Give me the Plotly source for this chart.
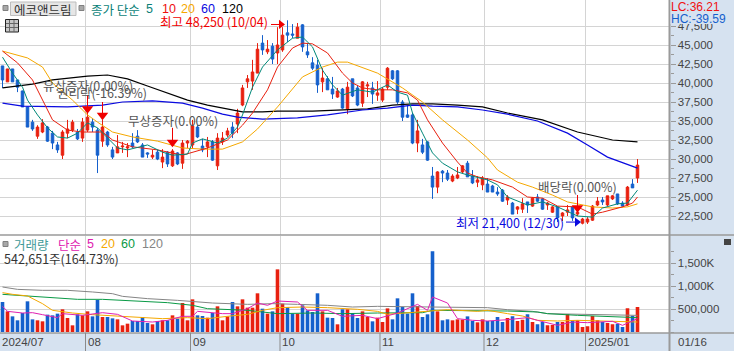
import plotly.graph_objects as go

opens = [42250,40150,41850,40400,38950,36850,34850,33000,33550,34200,33400,31850,30500,33400,33800,33550,32750,33800,34850,33800,
32350,33550,31200,30800,31600,31450,32100,33000,31850,30800,30250,30900,29600,30900,29100,30800,29450,32100,31850,34200,
31700,31600,32250,29100,32250,33150,34200,34600,37100,40150,40250,41300,45250,44100,44850,43950,44350,46600,46450,45900,
47650,44100,42650,42350,40150,40550,39200,38150,39200,36600,40550,39350,37350,39600,39350,38400,37750,39450,41600,41600,
37500,35800,35800,32100,31850,32250,27750,26300,28400,28150,27100,27500,28300,29450,27750,26950,26600,26700,26450,25650,
25900,24600,24200,23400,23400,24350,23800,25000,24750,23950,23000,23700,22500,23000,23700,22750,21550,21700,21950,23950,
24600,23950,24750,25400,24200,23950,26700,27500]
closes = [40400,41850,40150,39450,36850,34200,33950,34200,34750,32350,32100,31200,33550,33950,34850,32650,34850,35500,34200,30500,
34200,31850,30250,31600,31700,31600,31600,32250,30250,30650,30500,30000,30250,29350,31050,29350,32100,32350,34350,32900,
31200,32250,29850,32750,32750,33700,33400,36050,39350,40550,41450,44450,44350,44450,43150,45000,46300,46300,46300,47350,
44750,43700,41950,39750,40650,39100,38550,38950,36700,39450,38300,37100,40150,39750,38550,38700,39200,41950,40550,37500,
35500,35500,32100,33700,30900,29850,26300,28300,28150,27350,27750,27900,29100,27650,26850,27250,27500,25650,25650,25400,
24450,25000,22750,23700,24100,23950,24850,24450,23400,24200,23700,22250,22900,23300,22250,23000,22100,22100,23800,24450,
24350,25150,25150,24100,23800,26300,26200,29200]
highs = [42250,41850,41850,40400,39000,36850,35150,34450,35250,34350,33700,32250,33800,35150,35150,33950,35400,36050,35400,34100,
35150,33700,31600,33150,32250,32100,33400,33800,32100,30900,31200,31200,31300,31050,31300,30900,32500,32500,35150,34450,
32650,32900,32500,33400,33550,34100,34850,36600,39750,41050,43050,45250,46300,45650,45250,47350,47350,48250,47750,47900,
47750,45250,43400,43050,41950,40900,40800,39350,39350,40150,40550,39750,40250,40150,40150,40250,39450,42100,41700,41700,
37750,37100,36050,35150,32650,32350,28950,28400,28550,28550,28000,28950,29200,29750,28550,27750,27750,27500,26600,26300,
26050,25250,24350,23800,24850,24350,25000,25400,24850,24350,23800,23800,23000,23950,23800,25250,22250,22350,23950,25000,
25000,25150,25250,25400,24450,26450,27350,30000]
lows = [39350,40150,40150,38800,36850,34200,33700,32650,33400,32250,31300,30800,30000,32750,33550,32500,32250,33550,33550,28150,
31600,31600,30000,30800,30800,30250,31450,32100,30250,30150,30000,29850,28800,28950,28950,29200,28700,31450,31450,32750,
30900,30250,29750,28550,31850,32900,32750,33400,36950,39350,39100,41300,43700,43800,42500,42500,44100,45400,45900,45900,
44100,43300,41700,38700,38800,39100,37900,38050,36600,35900,38150,36950,36850,38150,37250,37650,37500,39100,40400,37250,
35000,35400,31950,30900,30650,29750,24750,25500,26950,27100,26950,27350,28150,27650,26700,26300,25900,25650,25650,25150,
24350,23950,22750,22750,22900,22900,23700,24350,23300,23300,22900,21700,21850,22500,21850,22500,21400,21450,21850,23800,
23950,23800,24600,23950,23700,23800,26200,26850]

volumes = [652,449,340,254,413,667,275,254,232,377,362,399,493,304,145,384,362,449,340,696,
326,326,297,275,145,181,239,239,326,196,167,239,254,254,362,290,630,254,710,362,
348,312,413,558,254,340,652,558,710,529,529,841,507,399,449,1362,616,543,399,399,
580,471,435,841,449,312,304,167,493,493,413,304,449,326,232,312,217,514,275,732,
543,399,841,565,326,384,1754,449,254,275,254,275,268,340,239,210,275,239,239,326,
217,304,340,239,268,384,217,167,217,145,152,217,217,391,254,254,109,123,348,254,
217,196,167,181,109,514,355,542.651]

ma5_idx = [0,2,4,5,7,9,11,13,15,17,19,21,23,25,29,32,34,37,38,40,43,45,47,48,50,52,55,58,60,62,64,66,68,71,74,77,79,81,82,84,86,88,91,93,97,99,101,105,108,111,115,118,120,123,125,127]
ma5 = [43400,41300,39450,37750,35800,34100,32900,32750,33400,34750,34100,32750,31450,31200,31850,30900,30500,30650,32100,32650,32100,32750,34200,35800,39450,42100,44350,45900,46050,44750,41700,39750,38400,39100,38800,39750,38800,38400,36050,33400,30800,29450,28300,27900,27250,26600,25000,23950,24350,23700,22500,22350,23550,24100,24200,25900]
ma10_idx = [0,3,6,8,10,13,16,20,22,26,31,36,41,45,48,50,53,55,58,60,62,65,68,70,72,75,78,81,83,85,88,91,93,95,98,102,105,108,111,115,118,120,124,126,127]
ma10 = [44200,42650,40400,37750,35150,33800,33550,33550,32500,31600,31200,30500,31450,32500,34450,36050,39100,42100,44600,45250,45150,43950,41300,40000,39350,39100,39100,38700,37750,35150,32100,29600,28150,27650,27250,26300,25000,24850,23800,23700,22750,23000,23700,24200,25000]
ma20_idx = [0,5,8,10,14,17,19,22,26,31,36,40,44,48,51,55,60,64,67,69,75,80,84,88,93,97,99,103,106,110,113,118,122,125,127]
ma20 = [44200,43300,42100,40000,37750,35800,34850,33550,32900,32350,31450,31300,31300,32250,33950,36850,40800,42100,42750,42750,41300,39350,37500,35150,32500,30150,28550,26950,26300,25250,24350,23700,23550,23700,24100]
ma60_idx = [0,4,13,20,24,30,36,40,44,47,52,59,65,72,77,82,86,91,96,101,107,113,117,121,127]
ma60 = [37350,36950,36850,37100,37500,37650,37350,36700,35900,35500,35250,35400,35800,36450,36700,37100,36950,36850,36450,35900,35000,33400,31850,30250,28800]
ma120_idx = [0,6,10,13,17,21,25,29,33,37,41,45,48,52,55,62,69,73,78,82,86,91,96,101,108,115,122,127]
ma120 = [39350,39850,40400,40650,40900,41050,40550,39600,38700,37750,37100,36600,36200,36200,36300,36300,36450,36600,37100,37250,37250,37100,36850,36050,35150,33550,32500,32250]

vma5_idx = [0,1,4,6,8,11,12,16,20,23,26,30,33,36,38,39,44,46,49,51,53,55,59,61,65,68,72,75,79,83,85,86,89,91,94,97,101,105,107,111,114,117,122,124,127]
vma5 = [558,449,413,420,377,312,399,362,420,384,239,217,254,341,341,449,399,399,507,630,580,674,652,471,471,341,362,290,413,601,471,761,630,290,254,239,268,312,254,145,217,203,232,145,290]
vma20_idx = [0,2,5,8,10,14,18,22,26,32,37,41,45,49,52,55,60,65,71,75,77,80,86,89,95,97,101,104,107,111,115,121,127]
vma20 = [855,819,783,616,471,413,377,348,326,290,312,290,341,384,471,529,543,529,493,449,384,413,471,485,449,471,399,348,254,239,254,232,217]
vma60_idx = [0,5,10,15,20,24,33,38,41,49,55,62,68,75,84,86,97,101,107,109,115,120,127]
vma60 = [819,783,761,710,710,688,638,580,507,471,399,413,399,413,420,471,471,456,435,399,362,341,312]
vma120_idx = [0,3,8,13,18,22,24,29,35,38,42,49,54,59,65,70,75,86,91,97,101,106,109,115,120,127]
vma120 = [978,927,906,906,870,833,775,725,688,667,630,601,616,601,580,543,558,543,543,529,485,449,399,384,377,362]

price_ticks = [22500,25000,27500,30000,32500,35000,37500,40000,42500,45000,47500]
volume_ticks = [500,1000,1500]
volume_tick_labels = ["500,000","1,000K","1,500K"]
month_idx = [16.6,37.6,55.5,75.5,96.3,116.6]
month_grid_all = [-0.5] + month_idx
month_labels = ["2024/07","08","09","10","11","12","2025/01"]

RED = "#e8200f"
BLUE = "#1560cc"
GRID = "#d4d4d4"
AXIS = "#9a9a9a"
BAND = "#d6e2f0"
TXT = "#444444"
KR = "Noto Sans CJK KR, Noto Sans, sans-serif"
LAT = "Liberation Sans, Arial, sans-serif"
W, H = 734, 351
px = lambda x: x / W
py = lambda y: 1 - y / H

fig = go.Figure()
x = list(range(len(closes)))

fig.add_trace(go.Candlestick(
    x=x, open=opens, high=highs, low=lows, close=closes, xaxis="x", yaxis="y",
    increasing=dict(line=dict(color=RED, width=1), fillcolor=RED),
    decreasing=dict(line=dict(color=BLUE, width=1), fillcolor=BLUE),
    whiskerwidth=0, hoverinfo="skip", showlegend=False))

for ix, vals, col, wd in [
    (ma120_idx, ma120, "#000000", 1.2), (ma60_idx, ma60, "#0a0ae0", 1.2),
    (ma20_idx, ma20, "#f5a800", 1), (ma10_idx, ma10, "#e8200f", 1),
    (ma5_idx, ma5, "#008878", 1)]:
    fig.add_trace(go.Scatter(x=ix, y=vals, mode="lines", line=dict(color=col, width=wd),
                             xaxis="x", yaxis="y", hoverinfo="skip", showlegend=False))

# event pointers (index, line-top price, marker price)
ev_idx = [17, 20, 34, 115]
ev_top = [38400, 37500, 34100, 25250]
ev_tip = [36600, 35750, 32200, 23600]
for i, t, b in zip(ev_idx, ev_top, ev_tip):
    fig.add_trace(go.Scatter(x=[i, i], y=[t, b], mode="lines", line=dict(color="#f00000", width=1),
                             xaxis="x", yaxis="y", hoverinfo="skip", showlegend=False))
fig.add_trace(go.Scatter(x=ev_idx, y=ev_tip, mode="markers",
                         marker=dict(symbol="triangle-down", size=10, color="#f00000"),
                         xaxis="x", yaxis="y", hoverinfo="skip", showlegend=False))
# high / low pointers
for xs, p, col in [([53.7, 55.7], 47700, "#f00000"), ([112.7, 114.9], 21700, "#0a0ae0")]:
    fig.add_trace(go.Scatter(x=xs, y=[p, p], mode="lines", line=dict(color=col, width=1),
                             xaxis="x", yaxis="y", hoverinfo="skip", showlegend=False))
    fig.add_trace(go.Scatter(x=[xs[1]], y=[p], mode="markers",
                             marker=dict(symbol="triangle-right", size=8, color=col),
                             xaxis="x", yaxis="y", hoverinfo="skip", showlegend=False))

vol_colors = [RED if c >= o else BLUE for o, c in zip(opens, closes)]
fig.add_trace(go.Bar(x=x, y=[v * 1000 for v in volumes], marker=dict(color=vol_colors, line=dict(width=0)),
                     width=0.72, xaxis="x2", yaxis="y2", hoverinfo="skip", showlegend=False))
for ix, vals, col in [(vma120_idx, vma120, "#858585"), (vma60_idx, vma60, "#0a9a46"),
                      (vma20_idx, vma20, "#f5a800"), (vma5_idx, vma5, "#e020b0")]:
    fig.add_trace(go.Scatter(x=ix, y=[v * 1000 for v in vals], mode="lines", line=dict(color=col, width=1),
                             xaxis="x2", yaxis="y2", hoverinfo="skip", showlegend=False))

xr = [-0.5, 133.4]
common_x = dict(range=xr, tickmode="array", tickvals=month_idx, showticklabels=False, ticks="",
                showgrid=True, gridcolor=GRID, gridwidth=1, zeroline=False, showline=False, fixedrange=True,
                rangeslider=dict(visible=False))
yax = dict(side="right", tickmode="array", ticks="outside", ticklen=5, tickcolor=AXIS, tickwidth=1,
           showgrid=True, gridcolor=GRID, gridwidth=1, zeroline=False, showline=False, fixedrange=True,
           tickfont=dict(family=LAT, size=11.5, color=TXT))
fig.update_layout(
    width=W, height=H, margin=dict(l=0, r=0, t=0, b=0), paper_bgcolor="white", plot_bgcolor="white",
    boxgap=0.28, bargap=0.28, showlegend=False,
    xaxis=dict(domain=[0, 669.5 / W], anchor="y", **common_x),
    xaxis2=dict(domain=[0, 669.5 / W], anchor="y2", **common_x),
    yaxis=dict(domain=[py(235), 1], anchor="x", range=[20000, 50922], tickvals=price_ticks,
               ticktext=[f"{v:,}" for v in price_ticks],
               minor=dict(tickvals=[v + 1250 for v in price_ticks], ticks="outside", ticklen=3, tickcolor=AXIS, showgrid=False), **yax),
    yaxis2=dict(domain=[py(333), py(236)], anchor="x2", range=[-21739, 2086956],
                tickvals=[v * 1000 for v in volume_ticks], ticktext=volume_tick_labels,
                minor=dict(tickvals=[250000, 750000, 1250000, 1750000, 0], ticks="outside", ticklen=3, tickcolor=AXIS, showgrid=False), **yax),
)

def rect(x0, y0, x1, y1, fill, line=None, lw=0, layer="above"):
    fig.add_shape(type="rect", xref="paper", yref="paper", x0=px(x0), x1=px(x1), y0=py(y0), y1=py(y1),
                  fillcolor=fill, line=dict(color=line or fill, width=lw), layer=layer)

def hline(x0, x1, y, col, w=1, layer="above"):
    fig.add_shape(type="line", xref="paper", yref="paper", x0=px(x0), x1=px(x1), y0=py(y), y1=py(y),
                  line=dict(color=col, width=w), layer=layer)

def vline(x_, y0, y1, col, w=1, layer="above"):
    fig.add_shape(type="line", xref="paper", yref="paper", x0=px(x_), x1=px(x_), y0=py(y0), y1=py(y1),
                  line=dict(color=col, width=w), layer=layer)

def text(s, x_, y_, col=TXT, size=12, fam=KR, anchor="left"):
    fig.add_annotation(xref="paper", yref="paper", x=px(x_), y=py(y_), text=s, showarrow=False,
                       xanchor=anchor, yanchor="middle", font=dict(family=fam, size=size, color=col),
                       borderpad=0, borderwidth=0)

# right panel + bottom band
rect(670, 0, W, H, BAND, layer="below")
rect(0, 333, W, H, BAND, layer="below")
hline(0, W, 235, AXIS, 1.5)
hline(0, W, 333, AXIS, 1.5)
vline(669.5, 0, H, AXIS, 2)
for mi in month_idx:
    xp = (mi + 0.5) * 5
    vline(xp, 333, H, "#8a8a8a", 1)
for lab, mi in zip(month_labels, month_grid_all):
    xp = (mi + 0.5) * 5
    text(lab, xp + 2 if mi >= 0 else 1.5, 342, TXT, 11.5, LAT)
text("01/16", 678, 342, TXT, 11.5, LAT)

# LC/HC box
rect(670.5, 0, W, 24, BAND)
text("LC:36.21", 671, 7, "#f01010", 12, LAT)
text("HC:-39.59", 671, 19, BLUE, 12, LAT)
# collapse icon
rect(724, 239, 731, 245, "#444444")

# header
rect(3, 5.5, 8, 10.5, "#a8a8a8", "#808080", 1)
rect(10.5, 2, 76, 15.5, "#e6e6e6", "#bdbdbd", 1)
rect(79, 5.5, 84, 10.5, "#a8a8a8", "#808080", 1)
text("에코앤드림", 43, 9, "#333333", 12.5, KR, "center")
text("종가 단순", 91, 9, "#0b7f78", 12.5)
text("5", 146, 9, "#0b7f78", 12.5, LAT)
text("10", 162, 9, "#ee1010", 12.5, LAT)
text("20", 181, 9, "#f5a800", 12.5, LAT)
text("60", 201, 9, "#0a0ae0", 12.5, LAT)
text("120", 222, 9, "#000000", 12.5, LAT)
# small table icon
rect(5.5, 19.5, 18.5, 32, "#c8c8c8", "#222222", 1)
hline(6, 18, 23.5, "#666666", 1)
hline(6, 18, 27.5, "#666666", 1)
vline(9.5, 20, 32, "#666666", 1)
vline(14, 20, 32, "#666666", 1)

# chart labels
text("최고 48,250 (10/04)", 160, 22, "#f00000", 12.5)
text("최저 21,400 (12/30)", 456, 222, "#0a0ae0", 12.5)
text("유상증자(0.00%)", 43, 86, "#555555", 12.5)
text("권리락(-16.39%)", 57, 93, "#555555", 12.5)
text("무상증자(0.00%)", 128, 120, "#555555", 12.5)
text("배당락(0.00%)", 538, 187, "#555555", 12.5)

# volume header
rect(3, 241.5, 8, 246.5, "#a8a8a8", "#808080", 1)
text("거래량", 14, 244, "#3f9a98", 12.5)
text("단순", 58, 244, "#e020b0", 12.5)
text("5", 87, 244, "#e020b0", 12.5, LAT)
text("20", 101, 244, "#f5a800", 12.5, LAT)
text("60", 121, 244, "#0a9a46", 12.5, LAT)
text("120", 142, 244, "#858585", 12.5, LAT)
text("542,651주(164.73%)", 4, 258, "#333333", 12.5)

fig.write_html("out.html", config={"displayModeBar": False},
               post_script="document.body.style.margin='0';document.body.style.overflow='hidden';")
